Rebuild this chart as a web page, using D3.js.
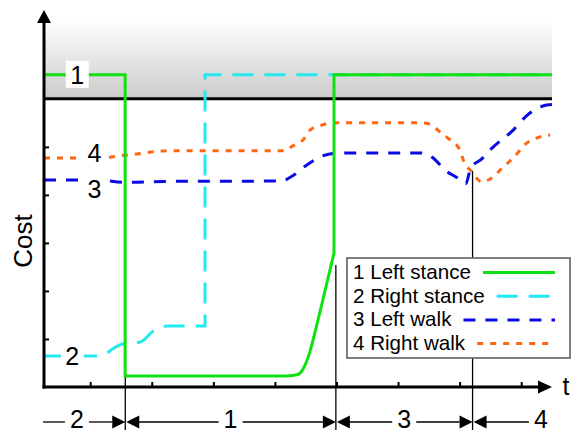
<!DOCTYPE html>
<html>
<head>
<meta charset="utf-8">
<script src="https://cdn.jsdelivr.net/npm/d3@7"></script>
<style>
  body { margin: 0; background: #fff; }
  svg { display: block; font-family: Arial, "Liberation Sans", sans-serif; }
</style>
</head>
<body>
<div class="chart"></div>
<script>
// Define SVG area dimensions
var svgWidth = 571;
var svgHeight = 432;

// axis ticks (time units / cost units)
var timeTicks = [1, 2, 3, 4, 5, 6, 7, 8];
var costTicks = [1, 2, 3, 4, 5];
var costLimit = 6;

// gait phases along the time axis
var phaseNames = ["2", "1", "3", "4"];
var phaseBounds = [0, 1.57, 4.99, 7.21, 9.43];
var guideTops = [0.25, 2.54, 4.5];   // where the thin phase lines start (cost units)

// series, [time, cost]; repeated time = vertical jump
var seriesNames = ["1 Left stance", "2 Right stance", "3 Left walk", "4 Right walk"];
var leftStance = [[0.25, 6.5], [1.568, 6.5], [1.568, 0.23], [4.2, 0.23], [4.37, 0.26], [4.46, 0.38],
  [4.54, 0.62], [4.70, 1.40], [4.85, 2.20], [4.96, 2.79], [4.96, 6.5], [8.5, 6.5]];
var rightStance = [[0.25, 0.646], [1.1, 0.646], [1.26, 0.70], [1.41, 0.83], [1.57, 0.91], [1.8, 0.93],
  [2.05, 1.19], [2.25, 1.27], [2.865, 1.27], [2.865, 6.5], [8.5, 6.5]];
var leftWalk = [[0.25, 4.31], [1.1, 4.31], [1.6, 4.26], [2.2, 4.28], [4.1, 4.29], [4.29, 4.40],
  [4.52, 4.625], [4.77, 4.81], [5.06, 4.875], [6.36, 4.875], [6.57, 4.77], [6.76, 4.52], [6.97, 4.35],
  [7.10, 4.23], [7.18, 4.56], [7.36, 4.75], [7.53, 4.98], [7.87, 5.35], [8.09, 5.65], [8.35, 5.85], [8.5, 5.88]];
var rightWalk = [[0.25, 4.77], [1.1, 4.77], [1.6, 4.83], [2.3, 4.92], [4.15, 4.92], [4.29, 5.02],
  [4.46, 5.15], [4.57, 5.35], [4.73, 5.44], [4.94, 5.5], [6.36, 5.5], [6.52, 5.47], [6.68, 5.31],
  [6.84, 5.15], [7.0, 4.94], [7.07, 4.69], [7.20, 4.48], [7.36, 4.27], [7.52, 4.35], [7.69, 4.56],
  [7.87, 4.77], [8.09, 5.08], [8.26, 5.19], [8.47, 5.25]];

// curve number labels
var labelNames = ["1", "2", "3", "4"];
var labelTime = [0.79, 0.71, 1.07, 1.07];
var labelCost = [6.5, 0.646, 4.125, 4.875];

var colors = ["#11e011", "#22e8f0", "#0a0ae6", "#ff6611"];
var dashes = [null, "21,11", "12,10", "6,7"];

var svg = d3.select(".chart")
  .append("svg")
  .attr("width", svgWidth)
  .attr("height", svgHeight);

var x = d3.scaleLinear().domain([0.25, 8.5]).range([44, 552]);
var y = d3.scaleLinear().domain([0, 7.85]).range([387, 10]);

// gray band above the cost limit
var grad = svg.append("defs").append("linearGradient")
  .attr("id", "band").attr("x1", 0).attr("y1", 0).attr("x2", 0).attr("y2", 1);
grad.append("stop").attr("offset", "0%").attr("stop-color", "#ffffff");
grad.append("stop").attr("offset", "100%").attr("stop-color", "#cbcbcb");

svg.append("rect")
  .attr("x", x(0.25))
  .attr("y", 20)
  .attr("width", x(8.5) - x(0.25))
  .attr("height", y(costLimit) - 20)
  .attr("fill", "url(#band)");

svg.append("line")
  .attr("x1", x(0.25)).attr("x2", x(8.5))
  .attr("y1", y(costLimit)).attr("y2", y(costLimit))
  .attr("stroke", "#000").attr("stroke-width", 3);

// thin phase guide lines
var rowY = 422;
svg.selectAll(".guide")
  .data(phaseBounds.slice(1, 4))
  .enter()
  .append("line")
  .attr("class", "guide")
  .attr("x1", d => x(d)).attr("x2", d => x(d))
  .attr("y1", (d, i) => y(guideTops[i]))
  .attr("y2", rowY + 8)
  .attr("stroke", "#000")
  .attr("stroke-width", 1.3);

// curves: smooth pieces, joined by straight vertical jumps
var line = d3.line()
  .x(d => x(d[0]))
  .y(d => y(d[1]))
  .curve(d3.curveMonotoneX);

function curvePath(data) {
  var pieces = [[data[0]]];
  for (var k = 1; k < data.length; k++) {
    if (data[k][0] === data[k - 1][0]) pieces.push([]);
    pieces[pieces.length - 1].push(data[k]);
  }
  return pieces.map(function (p, j) {
    var s = p.length > 1 ? line(p) : `M${x(p[0][0])},${y(p[0][1])}`;
    return j === 0 ? s : "L" + s.slice(1);
  }).join("");
}

var allSeries = [leftStance, rightStance, leftWalk, rightWalk];
var drawOrder = [1, 2, 3, 0];
drawOrder.forEach(function (i) {
  svg.append("path")
    .attr("d", curvePath(allSeries[i]))
    .attr("fill", "none")
    .attr("stroke", colors[i])
    .attr("stroke-width", 3)
    .attr("stroke-dasharray", dashes[i]);
});

// curve labels with white boxes
labelNames.forEach(function (n, i) {
  var cx = x(labelTime[i]), cy = y(labelCost[i]);
  svg.append("rect")
    .attr("x", cx - 11.5).attr("y", cy - 14)
    .attr("width", 23).attr("height", 27)
    .attr("fill", "#fff");
  svg.append("text")
    .attr("x", cx).attr("y", cy + 9)
    .attr("text-anchor", "middle")
    .style("font-size", "25px")
    .text(n);
});

// axes ticks
var xAxis = d3.axisBottom(x).tickValues(timeTicks).tickSize(-5).tickFormat("");
var yAxis = d3.axisLeft(y).tickValues(costTicks).tickSize(-5).tickFormat("");
var gx = svg.append("g").attr("transform", `translate(0, ${y(0)})`).call(xAxis);
var gy = svg.append("g").attr("transform", `translate(${x(0.25)}, 0)`).call(yAxis);
gx.select(".domain").remove();
gy.select(".domain").remove();
svg.selectAll(".tick line").attr("stroke", "#000").attr("stroke-width", 2);

// axis lines with arrows
svg.append("line")
  .attr("x1", x(0.25)).attr("x2", x(0.25))
  .attr("y1", y(0) + 1.5).attr("y2", 22)
  .attr("stroke", "#000").attr("stroke-width", 3);
svg.append("path")
  .attr("d", `M${x(0.25)},10 L${x(0.25) - 7},23 L${x(0.25) + 7},23 Z`)
  .attr("fill", "#000");
svg.append("line")
  .attr("x1", x(0.25) - 1.5).attr("x2", 540)
  .attr("y1", y(0)).attr("y2", y(0))
  .attr("stroke", "#000").attr("stroke-width", 3);
svg.append("path")
  .attr("d", `M552,${y(0)} L538,${y(0) - 6.5} L538,${y(0) + 6.5} Z`)
  .attr("fill", "#000");

svg.append("text")
  .attr("x", 566).attr("y", 395)
  .attr("text-anchor", "middle")
  .style("font-size", "25px")
  .text("t");

svg.append("text")
  .attr("transform", "translate(32, 241) rotate(-90)")
  .attr("text-anchor", "middle")
  .style("font-size", "26px")
  .text("Cost");

// phase dimension row
var arrowLen = 13, gap = 5, halfW = 7;
phaseNames.forEach(function (n, i) {
  var x0 = x(phaseBounds[i]), x1 = x(phaseBounds[i + 1]);
  var cx = (x0 + x1) / 2;
  var left = Math.max(x0, 43), right = Math.min(x1, svgWidth);
  var hasL = x0 > 50, hasR = x1 < 560;
  svg.append("text")
    .attr("x", cx).attr("y", rowY + 6)
    .attr("text-anchor", "middle")
    .style("font-size", "25px")
    .text(n);
  svg.append("line")
    .attr("x1", hasL ? left + arrowLen : left).attr("x2", cx - halfW - gap)
    .attr("y1", rowY).attr("y2", rowY)
    .attr("stroke", "#000").attr("stroke-width", 1.3);
  if (hasR) {
    svg.append("line")
      .attr("x1", cx + halfW + gap).attr("x2", right - arrowLen)
      .attr("y1", rowY).attr("y2", rowY)
      .attr("stroke", "#000").attr("stroke-width", 1.3);
    svg.append("path")
      .attr("d", `M${x1},${rowY} L${x1 - arrowLen},${rowY - 6.5} L${x1 - arrowLen},${rowY + 6.5} Z`)
      .attr("fill", "#000");
  }
  if (hasL) {
    svg.append("path")
      .attr("d", `M${x0 + 1},${rowY} L${x0 + 1 + arrowLen},${rowY - 6.5} L${x0 + 1 + arrowLen},${rowY + 6.5} Z`)
      .attr("fill", "#000");
  }
});

// legend
var legend = svg.append("g").attr("transform", "translate(347, 258)");
legend.append("rect")
  .attr("width", 223).attr("height", 100)
  .attr("fill", "#fff")
  .attr("stroke", "#555").attr("stroke-width", 1.5);

seriesNames.forEach(function (name, i) {
  var base = 21 + i * 23.7;
  var t = legend.append("text")
    .attr("x", 6).attr("y", base)
    .style("font-size", "20.6px")
    .text(name);
  var w = t.node().getComputedTextLength();
  legend.append("line")
    .attr("x1", 6 + w + 12).attr("x2", 208)
    .attr("y1", base - 6.5).attr("y2", base - 6.5)
    .attr("stroke", colors[i])
    .attr("stroke-width", 3)
    .attr("stroke-dasharray", dashes[i]);
});
</script>
</body>
</html>
